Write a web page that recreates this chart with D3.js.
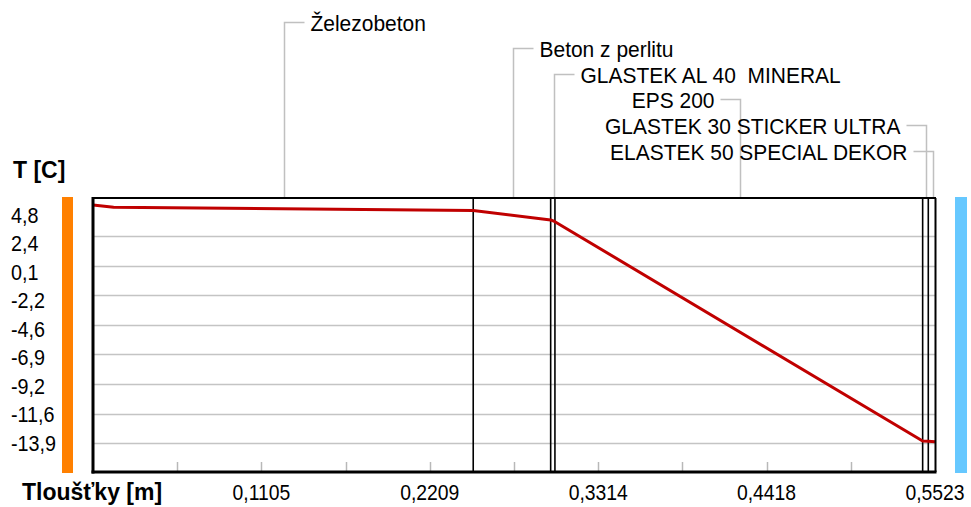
<!DOCTYPE html>
<html>
<head>
<meta charset="utf-8">
<script src="https://cdn.jsdelivr.net/npm/d3@7"></script>
<style>
  html, body { margin: 0; padding: 0; background: #ffffff; }
  svg { display: block; }
  text { font-family: "Liberation Sans", Arial, sans-serif; fill: #000; white-space: pre; }
</style>
</head>
<body>
<svg id="chart" width="971" height="507"></svg>
<script>
// Wall layers from the interior side to the exterior side, thickness in metres
const layerNames = [
  "Železobeton",
  "Beton z perlitu",
  "GLASTEK AL 40  MINERAL",
  "EPS 200",
  "GLASTEK 30 STICKER ULTRA",
  "ELASTEK 50 SPECIAL DEKOR"
];
const layerThickness = [0.2494, 0.0508, 0.0028, 0.2412, 0.0037, 0.0044];

// Temperature profile through the wall: depth [m] and temperature [C]
const profileDepth = [0, 0.0135, 0.2494, 0.3002, 0.3030, 0.5442, 0.5479, 0.5523];
const profileTemp  = [4.87, 4.69, 4.44, 3.69, 3.55, -13.74, -13.76, -13.79];

// Temperature axis
const tempTicks = [4.76, 2.425, 0.09, -2.245, -4.58, -6.915, -9.25, -11.585, -13.92];
const tempTickLabels = ["4,8", "2,4", "0,1", "-2,2", "-4,6", "-6,9", "-9,2", "-11,6", "-13,9"];

// Thickness axis
const depthMajorTicks = [0.1105, 0.2209, 0.3314, 0.4418, 0.5523];
const depthMajorLabels = ["0,1105", "0,2209", "0,3314", "0,4418", "0,5523"];
const depthMinorTicks = [0.0552, 0.1657, 0.2762, 0.3866, 0.4971];

const svg = d3.select("#chart");
const plot = { left: 93, right: 935, top: 198, bottom: 472 };

const x = d3.scaleLinear().domain([0, 0.5523]).range([plot.left, plot.right]);
const y = d3.scaleLinear().domain([-16.18, 5.42]).range([plot.bottom, plot.top]);
const yLabel = d3.scalePoint().domain(tempTickLabels).range([215, 443]);

// narrow, tall lettering: text is drawn at its anchor and squeezed horizontally
function narrowText(parent, tx, ty, str, opts) {
  const g = parent.append("g")
    .attr("transform", `translate(${tx},${ty}) scale(${opts.sx || 0.92},1)`);
  return g.append("text")
    .attr("dy", opts.dy || null)
    .attr("text-anchor", opts.anchor || "start")
    .attr("font-size", opts.size)
    .attr("font-weight", opts.weight || null)
    .text(str);
}

// layer boundaries
const bounds = [0];
layerThickness.forEach(t => bounds.push(bounds[bounds.length - 1] + t));

// side bars: interior (warm) and exterior (cold)
svg.append("rect").attr("x", 62).attr("y", 197).attr("width", 11).attr("height", 276).attr("fill", "#ff8000");
svg.append("rect").attr("x", 955).attr("y", 197).attr("width", 12).attr("height", 276).attr("fill", "#66c8ff");

// horizontal grid lines (none at the top tick)
svg.append("g").selectAll("line")
  .data(tempTicks.slice(1))
  .join("line")
  .attr("x1", plot.left).attr("x2", plot.right)
  .attr("y1", d => Math.round(y(d)) + 0.5).attr("y2", d => Math.round(y(d)) + 0.5)
  .attr("stroke", "#c4c4c4").attr("stroke-width", 1.5);

// minor and major tick marks along the bottom edge
svg.append("g").selectAll("line")
  .data(depthMinorTicks.concat(depthMajorTicks.slice(0, -1)))
  .join("line")
  .attr("x1", d => Math.round(x(d)) + 0.5).attr("x2", d => Math.round(x(d)) + 0.5)
  .attr("y1", 462).attr("y2", 471)
  .attr("stroke", "#b8b8b8").attr("stroke-width", 1.5);

// leader lines and layer names
const levelY = i => 22 + i * 25.8;
const leaderLen = 20, gap = 6;
const labels = svg.append("g");
layerNames.forEach((name, i) => {
  const cx = Math.round(x((bounds[i] + bounds[i + 1]) / 2)) + 1.5;
  const ly = Math.round(levelY(i)) + 0.5;
  const right = i < 3; // first three names sit to the right of their leader
  const hx = right ? cx + leaderLen : cx - leaderLen;
  labels.append("path")
    .attr("d", `M${cx},${plot.top}V${ly}H${hx}`)
    .attr("fill", "none").attr("stroke", "#c0c0c0").attr("stroke-width", 1.5);
  narrowText(labels, right ? hx + gap : hx - gap, ly, name,
    { size: 22.8, sx: 0.92, dy: "0.36em", anchor: right ? "start" : "end" });
});

// layer boundaries
svg.append("g").selectAll("line")
  .data(bounds.slice(1, -1))
  .join("line")
  .attr("x1", d => x(d)).attr("x2", d => x(d))
  .attr("y1", plot.top).attr("y2", plot.bottom)
  .attr("stroke", "#000").attr("stroke-width", 1.6);

// temperature profile
const line = d3.line().x(d => x(d[0])).y(d => y(d[1]));
svg.append("path")
  .datum(d3.zip(profileDepth, profileTemp))
  .attr("d", line)
  .attr("fill", "none")
  .attr("stroke", "#c00000")
  .attr("stroke-width", 3)
  .attr("stroke-linejoin", "round");

// plot frame
const frame = svg.append("g").attr("stroke", "#000");
frame.append("line").attr("x1", plot.left).attr("x2", plot.right + 1).attr("y1", plot.top).attr("y2", plot.top).attr("stroke-width", 2);
frame.append("line").attr("x1", plot.right + 0.5).attr("x2", plot.right + 0.5).attr("y1", plot.top).attr("y2", plot.bottom).attr("stroke-width", 2);
frame.append("line").attr("x1", plot.left).attr("x2", plot.left).attr("y1", plot.top - 1).attr("y2", plot.bottom + 1.5).attr("stroke-width", 3);
frame.append("line").attr("x1", plot.left - 1.5).attr("x2", plot.right + 1.5).attr("y1", plot.bottom).attr("y2", plot.bottom).attr("stroke-width", 3);

// temperature tick labels
const yTickGroup = svg.append("g");
tempTickLabels.forEach(d => {
  narrowText(yTickGroup, 11, yLabel(d), d, { size: 21.5, sx: 0.92, dy: "0.36em" });
});

// thickness tick labels
const xTickGroup = svg.append("g");
depthMajorTicks.forEach((d, i) => {
  narrowText(xTickGroup, x(d), 500, depthMajorLabels[i], { size: 21.5, sx: 0.9, anchor: "middle" });
});

// axis titles
svg.append("text").attr("x", 13).attr("y", 178).attr("font-size", 23).attr("font-weight", "bold").text("T [C]");
svg.append("text").attr("x", 22).attr("y", 500).attr("font-size", 23).attr("font-weight", "bold").text("Tloušťky [m]");
</script>
</body>
</html>
